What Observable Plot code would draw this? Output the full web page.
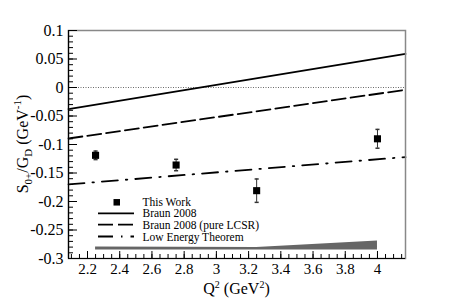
<!DOCTYPE html>
<html><head><meta charset="utf-8">
<script src="https://cdn.jsdelivr.net/npm/d3@7"></script>
<script src="https://cdn.jsdelivr.net/npm/@observablehq/plot@0.6"></script>
<style>
body{margin:0;background:#fff}
svg, svg text { font-family: "Liberation Serif", "DejaVu Serif", serif !important; }
</style>
</head><body><div id="chart"></div>
<script>
// Data
const q2Points = [2.25, 2.75, 3.25, 4.0];
const s0Values = [-0.119, -0.136, -0.181, -0.090];
const s0Errors = [0.0075, 0.010, 0.0205, 0.0165];
const bandQ2 = [2.25, 2.75, 3.25, 4.0];
const bandLow = [-0.2850, -0.2850, -0.2850, -0.2850];
const bandHigh = [-0.2800, -0.2803, -0.2806, -0.2695];
const lineQ2 = [2.082, 4.174];
const braunValues = [-0.038, 0.059];
const braunLcsrValues = [-0.0895, -0.004];
const letValues = [-0.170, -0.122];
const xDomain = [2.082, 4.174];
const yDomain = [-0.3, 0.1];
const xTicks = [2.2, 2.4, 2.6, 2.8, 3.0, 3.2, 3.4, 3.6, 3.8, 4.0];
const xTickLabels = ["2.2","2.4","2.6","2.8","3","3.2","3.4","3.6","3.8","4"];
const yTicks = [0.1, 0.05, 0, -0.05, -0.1, -0.15, -0.2, -0.25, -0.3];
const yTickLabels = ["0.1","0.05","0","-0.05","-0.1","-0.15","-0.2","-0.25","-0.3"];
const legendLabels = ["This Work", "Braun 2008", "Braun 2008 (pure LCSR)", "Low Energy Theorem"];

const points = q2Points.map((q, i) => ({q, s: s0Values[i], e: s0Errors[i]}));
const band = bandQ2.map((q, i) => ({q, lo: bandLow[i], hi: bandHigh[i]}));
const braun = lineQ2.map((q, i) => ({q, v: braunValues[i]}));
const braunLcsr = lineQ2.map((q, i) => ({q, v: braunLcsrValues[i]}));
const lowEnergy = lineQ2.map((q, i) => ({q, v: letValues[i]}));
const xMinor = d3.range(0, 42).map(k => +(2.1 + k * 0.05).toFixed(2)).filter(v => v <= xDomain[1]);
const yMinor = d3.range(0, 41).map(k => +(-0.3 + k * 0.01).toFixed(2));
const xLab = new Map(xTicks.map((t, i) => [t, xTickLabels[i]]));
const yLab = new Map(yTicks.map((t, i) => [t, yTickLabels[i]]));

const capSymbol = {draw(ctx, size) { const w = Math.sqrt(size); ctx.moveTo(-w / 2, 0); ctx.lineTo(w / 2, 0); }};
const serif = "Liberation Serif, DejaVu Serif, serif";

const plot = Plot.plot({
  width: 450, height: 305,
  marginLeft: 68, marginTop: 30, marginRight: 45, marginBottom: 47,
  style: {fontFamily: serif, fontSize: "16px", color: "#000", background: "#fff", overflow: "visible"},
  x: {domain: xDomain, label: null},
  y: {domain: yDomain, label: null},
  marks: [
    Plot.areaY(band, {x: "q", y1: "lo", y2: "hi", fill: "#666"}),
    Plot.ruleY([0], {stroke: "#444", strokeDasharray: "1,1.5", strokeWidth: 0.8}),
    Plot.line(braun, {x: "q", y: "v", stroke: "#000", strokeWidth: 1.8}),
    Plot.line(braunLcsr, {x: "q", y: "v", stroke: "#000", strokeWidth: 1.8, strokeDasharray: "14,5"}),
    Plot.line(lowEnergy, {x: "q", y: "v", stroke: "#000", strokeWidth: 1.8, strokeDasharray: "16,8,1.5,8"}),
    Plot.ruleX(points, {x: "q", y1: d => d.s - d.e, y2: d => d.s + d.e, stroke: "#333", strokeWidth: 1}),
    Plot.dot(points, {x: "q", y: d => d.s - d.e, symbol: capSymbol, r: 2.3, stroke: "#333", fill: "none"}),
    Plot.dot(points, {x: "q", y: d => d.s + d.e, symbol: capSymbol, r: 2.3, stroke: "#333", fill: "none"}),
    Plot.dot(points, {x: "q", y: "s", symbol: "square", r: 4, fill: "#000", stroke: "none"}),
    Plot.frame({stroke: "#888", strokeWidth: 1.5}),
    Plot.ruleX([xDomain[0]], {stroke: "#000", strokeWidth: 1.2}),
    Plot.ruleY([yDomain[0]], {stroke: "#000", strokeWidth: 1.2}),
    Plot.axisX(xMinor, {tickSize: -4, tickFormat: () => "", label: null}),
    Plot.axisX(xTicks, {tickSize: -7, tickPadding: 12, tickFormat: d => xLab.get(d), label: null, fontSize: 15}),
    Plot.axisY(yMinor, {tickSize: -5, tickFormat: () => "", label: null}),
    Plot.axisY(yTicks, {tickSize: -9, tickPadding: 14, tickFormat: d => yLab.get(d), label: null, fontSize: 16})
  ]
});
document.getElementById("chart").appendChild(plot);

const svg = d3.select(plot);

// Axis titles
const xt = svg.append("text").attr("x", 236.5).attr("y", 294).attr("text-anchor", "middle")
  .attr("font-family", serif).attr("font-size", 16).attr("fill", "#000");
xt.append("tspan").text("Q");
xt.append("tspan").attr("font-size", 10).attr("dy", -6).text("2");
xt.append("tspan").attr("dy", 6).text(" (GeV");
xt.append("tspan").attr("font-size", 10).attr("dy", -6).text("2");
xt.append("tspan").attr("dy", 6).text(")");

const yt = svg.append("text").attr("transform", "translate(28,144) rotate(-90)").attr("text-anchor", "middle")
  .attr("font-family", serif).attr("font-size", 16).attr("fill", "#000");
yt.append("tspan").text("S");
yt.append("tspan").attr("font-size", 11).attr("dy", 4).text("0+");
yt.append("tspan").attr("dy", -4).text("/G");
yt.append("tspan").attr("font-size", 11).attr("dy", 4).text("D");
yt.append("tspan").attr("dy", -4).text(" (GeV");
yt.append("tspan").attr("font-size", 11).attr("dy", -7).text("-1");
yt.append("tspan").attr("dy", 7).text(")");

// Legend
const lg = svg.append("g").attr("font-family", serif).attr("font-size", 11.5).attr("fill", "#000").attr("text-anchor", "start");
const rowsY = [202.3, 213.3, 224.7, 236.5];
lg.append("rect").attr("x", 113.5).attr("y", rowsY[0] - 3.25).attr("width", 6.5).attr("height", 6.5).attr("fill", "#000");
const dashes = [null, null, "15,5", "15,8,1.5,8"];
[1, 2, 3].forEach(i => {
  const l = lg.append("line").attr("x1", 98).attr("x2", 134).attr("y1", rowsY[i]).attr("y2", rowsY[i])
    .attr("stroke", "#000").attr("stroke-width", 1.8);
  if (dashes[i]) l.attr("stroke-dasharray", dashes[i]);
});
legendLabels.forEach((t, i) => {
  lg.append("text").attr("x", 142.5).attr("y", rowsY[i] + 4).attr("text-anchor", "start").text(t);
});
</script>
</body></html>
